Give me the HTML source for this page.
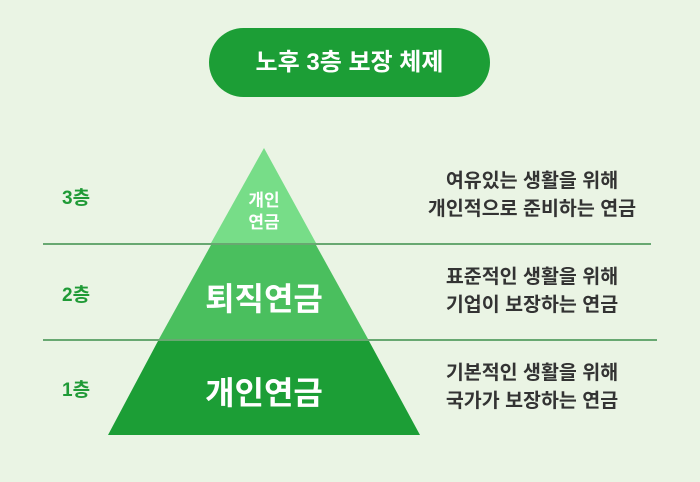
<!DOCTYPE html>
<html><head><meta charset="utf-8"><style>
body{margin:0;width:700px;height:482px;background:#eaf4e4;position:relative;overflow:hidden;font-family:"Liberation Sans","Noto Sans CJK KR",sans-serif}
.pill{position:absolute;left:209px;top:28px;width:281px;height:69px;border-radius:35px;background:#1c9e36;color:#fff;font-weight:bold;font-size:24px;text-align:center;line-height:69px}
.t{position:absolute;font-weight:bold}
.lab{color:#1f9a36;font-size:19px;left:62px}
.r{color:#333;font-size:19.5px;text-align:center;width:300px;left:382px;line-height:28px}
.w{color:#fff;text-align:center}
</style></head><body>
<div class="pill">노후 3층 보장 체제</div>
<svg width="700" height="482" style="position:absolute;left:0;top:0">
<line x1="43" y1="244" x2="651" y2="244" stroke="#1a7a2c" stroke-width="1.2"/>
<line x1="43" y1="340" x2="657" y2="340" stroke="#1a7a2c" stroke-width="1.2"/>
<polygon points="264,148 316,243 211,243" fill="#77dd88"/>
<polygon points="211,245 316,245 368,339 159,339" fill="#4abf5e"/>
<polygon points="158,341 369,341 420,435 108,435" fill="#1c9e36"/>
</svg>
<div class="t lab" style="top:183px">3층</div>
<div class="t lab" style="top:280px">2층</div>
<div class="t lab" style="top:375px">1층</div>
<div class="t w" style="left:229px;top:190px;width:70px;font-size:17px;line-height:22px">개인<br>연금</div>
<div class="t w" style="left:160px;top:274px;width:208px;font-size:32px">퇴직연금</div>
<div class="t w" style="left:160px;top:368px;width:208px;font-size:32px">개인연금</div>
<div class="t r" style="top:167px">여유있는 생활을 위해<br>개인적으로 준비하는 연금</div>
<div class="t r" style="top:263px">표준적인 생활을 위해<br>기업이 보장하는 연금</div>
<div class="t r" style="top:359px">기본적인 생활을 위해<br>국가가 보장하는 연금</div>
</body></html>
